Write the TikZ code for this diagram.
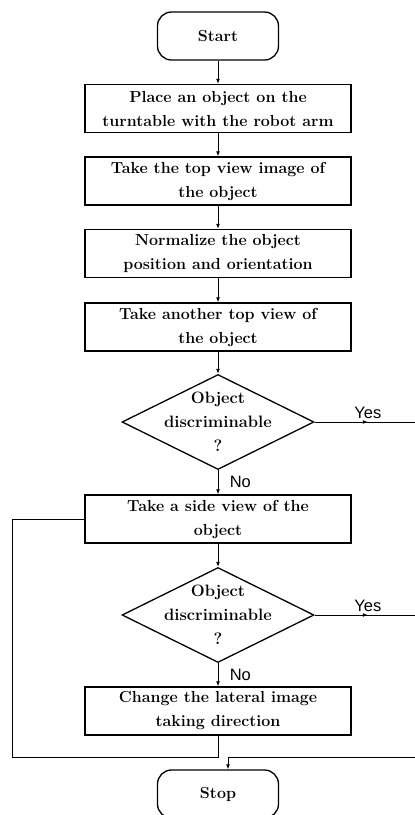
\documentclass[tikz,border=0pt]{standalone}
\usepackage{fontspec}
\setsansfont{Liberation Sans}
\usetikzlibrary{shapes.geometric,arrows.meta,decorations.markings}

\tikzset{
	stepbox/.style={draw, line width=1.3pt, minimum width=266pt, minimum height=48pt, inner sep=2pt, align=center, font=\fontsize{16}{24}\selectfont\bfseries},
	termbox/.style={draw, line width=1.3pt, rounded corners=14pt, minimum width=121pt, minimum height=48pt, font=\fontsize{16}{18}\selectfont\bfseries},
	testbox/.style={draw, diamond, line width=1.3pt, minimum width=192pt, minimum height=95pt, inner sep=0pt},
	testtext/.style={align=center, font=\fontsize{16.5}{24}\selectfont\bfseries},
	flow/.style={line width=1pt, -{Latex[length=5pt,width=4pt]}},
	midflow/.style={line width=1pt, postaction={decorate}, decoration={markings, mark=at position 0.53 with {\arrow{Latex[length=5pt,width=4pt]}}}},
	answer/.style={font=\fontsize{16.5}{18}\selectfont\sffamily},
}

\begin{document}
\begin{tikzpicture}[x=1pt, y=-1pt]
		%%%%% START %%%%%
		\useasboundingbox (0, 0) rectangle (415, 815);
		
		\node[termbox] (start) at (218, 36) {Start};
		\node[stepbox] (place) at (218, 108.5) {Place an object on the\\turntable with the robot arm};
		\node[stepbox] (topview) at (218, 181) {Take the top view image of\\the object};
		\node[stepbox] (normal) at (218, 253.5) {Normalize the object\\position and orientation};
		\node[stepbox] (another) at (218, 327) {Take another top view of\\the object};
		\node[testbox, label={[testtext]center:Object\\discriminable\\?}] (testa) at (218, 422) {};
		\node[stepbox] (side) at (218, 519) {Take a side view of the\\object};
		\node[testbox, label={[testtext]center:Object\\discriminable\\?}] (testb) at (218, 615) {};
		\node[stepbox] (change) at (218, 711) {Change the lateral image\\taking direction};
		\node[termbox] (stop) at (218, 794) {Stop};
		
		\coordinate (yesa) at (415, 422);
		\coordinate (yesb) at (415, 615);
		\coordinate (back) at (415, 757);
		\coordinate (loop) at (12, 757);
		
		\draw[flow] (start) -- (place);
		\draw[flow] (place) -- (topview);
		\draw[flow] (topview) -- (normal);
		\draw[flow] (normal) -- (another);
		\draw[flow] (another) -- (testa);
		\draw[flow] (testa) -- node[answer, right=8pt] {No} (side);
		\draw[flow] (side) -- (testb);
		\draw[flow] (testb) -- node[answer, right=8pt] {No} (change);
		
		\draw[midflow] (testa.east) -- node[answer, above, pos=0.53] {Yes} (yesa);
		\draw[midflow] (testb.east) -- node[answer, above, pos=0.53] {Yes} (yesb);
		
		\draw[line width=1pt] (change.south) |- (loop) |- (side.west);
		\draw[flow] (back) -| ([xshift=10pt]stop.north);
		%%%%% END %%%%%
\end{tikzpicture}
\end{document}
